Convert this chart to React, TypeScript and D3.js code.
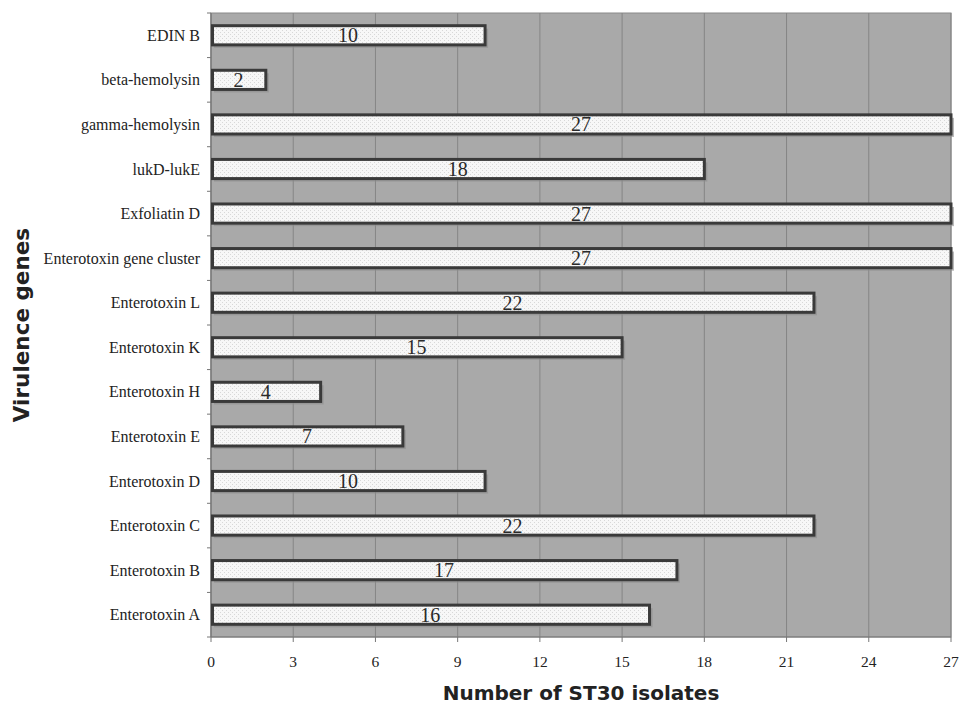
import React from "react";
import * as d3 from "d3";

const categories = [
  "EDIN B",
  "beta-hemolysin",
  "gamma-hemolysin",
  "lukD-lukE",
  "Exfoliatin D",
  "Enterotoxin gene cluster",
  "Enterotoxin L",
  "Enterotoxin K",
  "Enterotoxin H",
  "Enterotoxin E",
  "Enterotoxin D",
  "Enterotoxin C",
  "Enterotoxin B",
  "Enterotoxin A",
];
const values = [10, 2, 27, 18, 27, 27, 22, 15, 4, 7, 10, 22, 17, 16];
const xTicks = [0, 3, 6, 9, 12, 15, 18, 21, 24, 27];
const xTitle = "Number of ST30 isolates";
const yTitle = "Virulence genes";

export default function App() {
  const W = 960, H = 707;
  const left = 211, right = 951, top = 13, bottom = 637;
  const x = d3.scaleLinear().domain([0, 27]).range([left, right]);
  const y = d3.scaleBand<string>().domain(categories).range([top, bottom]).paddingInner(0.57).paddingOuter(0.285);
  const serif = "'Liberation Serif', 'Times New Roman', serif";
  const sans = "'DejaVu Sans', Verdana, sans-serif";
  const bounds = categories.map((_, i) => top + (i * (bottom - top)) / categories.length).concat([bottom]);
  return (
    <svg width={W} height={H} style={{ position: "absolute", left: 0, top: 0, background: "#fff" }}>
      <defs>
        <pattern id="dots" width="4" height="4" patternUnits="userSpaceOnUse">
          <rect width="4" height="4" fill="#f7f7f7" />
          <rect x="0" y="0" width="1" height="1" fill="#d8d8d8" />
          <rect x="2" y="2" width="1" height="1" fill="#d8d8d8" />
        </pattern>
      </defs>
      <rect x={left} y={top} width={right - left} height={bottom - top} fill="#a9a9a9" stroke="#8a8a8a" strokeWidth={1} />
      {xTicks.map((t) => (
        <line key={"g" + t} x1={x(t)} x2={x(t)} y1={top} y2={bottom} stroke="#858585" strokeWidth={1} />
      ))}
      <line x1={left} x2={left} y1={top} y2={bottom} stroke="#777" strokeWidth={1} />
      {bounds.map((b, i) => (
        <line key={"yt" + i} x1={left - 4} x2={left} y1={b} y2={b} stroke="#777" strokeWidth={1} />
      ))}
      <line x1={left} x2={right} y1={bottom} y2={bottom} stroke="#777" strokeWidth={1} />
      {xTicks.map((t) => (
        <line key={"xt" + t} x1={x(t)} x2={x(t)} y1={bottom} y2={bottom + 5} stroke="#777" strokeWidth={1} />
      ))}
      {xTicks.map((t) => (
        <text key={"xl" + t} x={x(t)} y={667} textAnchor="middle" fontFamily={serif} fontSize={15.5} fill="#222">
          {t}
        </text>
      ))}
      {categories.map((c, i) => {
        const y0 = y(c)!;
        const bw = x(values[i]) - x(0);
        return (
          <g key={c}>
            <rect x={x(0) + 3} y={y0 + 3} width={bw} height={y.bandwidth()} fill="#8c8c8c" opacity={0.6} />
            <rect x={x(0) + 1.5} y={y0} width={bw - 1.5} height={y.bandwidth()} fill="url(#dots)" stroke="#3a3a3a" strokeWidth={3} />
            <text x={x(values[i] / 2)} y={y0 + y.bandwidth() / 2 + 7} textAnchor="middle" fontFamily={serif} fontSize={20} fill="#2a2a2a">
              {values[i]}
            </text>
          </g>
        );
      })}
      {categories.map((c) => (
        <text key={"cl" + c} x={200} y={y(c)! + y.bandwidth() / 2 + 5.5} textAnchor="end" fontFamily={serif} fontSize={16} fill="#222">
          {c}
        </text>
      ))}
      <text x={581} y={700} textAnchor="middle" fontFamily={sans} fontWeight="bold" fontSize={20} fill="#222">
        {xTitle}
      </text>
      <text transform="translate(29,325) rotate(-90)" textAnchor="middle" fontFamily={sans} fontWeight="bold" fontSize={21.5} fill="#222">
        {yTitle}
      </text>
    </svg>
  );
}
